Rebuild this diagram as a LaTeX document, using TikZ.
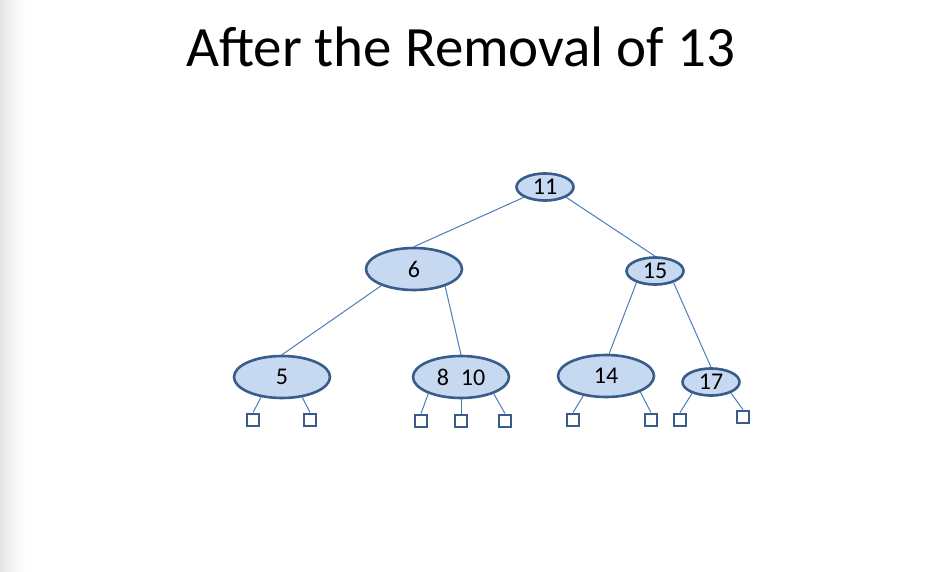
\documentclass[tikz,border=0pt]{standalone}
\usepackage{fontspec}
\setmainfont{Carlito}
\usetikzlibrary{shapes.geometric}
\definecolor{nodefill}{HTML}{C6D9F1}
\definecolor{nodeline}{HTML}{385D8A}
\definecolor{edgeline}{HTML}{4A7EBB}
\tikzset{
  tnode/.style={ellipse, draw=nodeline, fill=nodefill, line width=2.6pt, inner sep=0pt,
    font=\fontsize{24}{24}\selectfont},
  bignode/.style={tnode, minimum width=96pt, minimum height=42pt},
  smallnode/.style={tnode, minimum width=57pt, minimum height=27pt},
  leaf/.style={rectangle, draw=nodeline, fill=white, line width=2.4pt, minimum size=12.5pt, inner sep=0pt},
  edge/.style={draw=edgeline, line width=1pt},
}
\begin{document}
\begin{tikzpicture}[x=1pt,y=-1pt]
\useasboundingbox (0,0) rectangle (925,572);
\fill[white] (0,0) rectangle (925,572);
\foreach \i in {0,...,31}{
  \pgfmathsetmacro{\g}{11*(1-\i/32)*(1-\i/32)}
  \fill[black!\g] (\i,0) rectangle (\i+1.05,572);
}
\node[anchor=base, font=\fontsize{57}{57}\selectfont] (title) at (460.5,67) {After the Removal of 13};

\node[smallnode] (n11) at (545,187) {11};
\node[bignode] (n6) at (414,269) {6};
\node[smallnode] (n15) at (655,271) {15};
\node[bignode] (n5) at (282,377) {5};
\node[bignode] (n810) at (461,377) {8\hspace{12pt}10};
\node[bignode] (n14) at (606,376) {14};
\node[smallnode] (n17) at (711,382) {17};

\node[leaf] (s1) at (253,420) {};
\node[leaf] (s2) at (310,420) {};
\node[leaf] (s3) at (421,421) {};
\node[leaf] (s4) at (461,421) {};
\node[leaf] (s5) at (505,421) {};
\node[leaf] (s6) at (573,420) {};
\node[leaf] (s7) at (651,420) {};
\node[leaf] (s8) at (680,420) {};
\node[leaf] (s9) at (743,417) {};

\draw[edge] (n11.206) -- (n6.north);
\draw[edge] (n11.334) -- (n15.north);
\draw[edge] (n6.207) -- (n5.north);
\draw[edge] (n6.331) -- (n810.north);
\draw[edge] (n15.212) -- (n14.82);
\draw[edge] (n15.328) -- (n17.north);

\draw[edge] (n5.224) -- (s1.north);
\draw[edge] (n5.315) -- (s2.north);
\draw[edge] (n810.207) -- (s3.north);
\draw[edge] (n810.south) -- (s4.north);
\draw[edge] (n810.333) -- (s5.north);
\draw[edge] (n14.221) -- (s6.north);
\draw[edge] (n14.335) -- (s7.north);
\draw[edge] (n17.211) -- (s8.north);
\draw[edge] (n17.331) -- (s9.north);
\end{tikzpicture}
\end{document}
